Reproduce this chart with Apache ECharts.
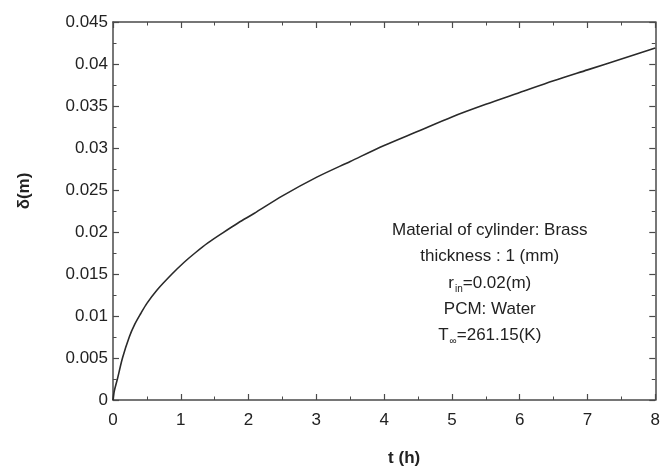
<!DOCTYPE html>
<html>
<head>
<meta charset="utf-8">
<script src="https://cdn.jsdelivr.net/npm/echarts@6/dist/echarts.min.js"></script>
<style>
  html, body { margin: 0; padding: 0; background: #fff; }
  #chart { width: 663px; height: 474px; }
</style>
</head>
<body>
<div id="chart"></div>
<script>
// time (h) and melt front thickness (m)
const tHours = [0, 0.02, 0.065, 0.14, 0.24, 0.32, 0.41, 0.5, 0.65, 0.87, 1.05, 1.21, 1.4, 1.62, 1.85, 2.08, 2.5, 3, 3.5, 4, 4.5, 5, 5.5, 6, 6.5, 7, 7.5, 8]
const delta = [0, 0.0011, 0.0025, 0.0050, 0.0075, 0.0090, 0.0103, 0.0115, 0.0131, 0.0150, 0.0164, 0.0175, 0.0187, 0.0199, 0.0211, 0.0222, 0.0243, 0.0265, 0.0284, 0.0303, 0.0320, 0.0337, 0.0352, 0.0366, 0.0380, 0.0393, 0.0406, 0.0419]

const xTicks = ['0', '1', '2', '3', '4', '5', '6', '7', '8']
const yTicks = ['0', '0.005', '0.01', '0.015', '0.02', '0.025', '0.03', '0.035', '0.04', '0.045']

const infoLines = [
  '{n|Material of cylinder: Brass}',
  '{n|thickness : 1 (mm)}',
  '{n|r}{sub|in}{n|=0.02(m)}',
  '{n|PCM: Water}',
  '{n|T}{sub|∞}{n|=261.15(K)}'
]

const font = 'Liberation Sans, Arial, sans-serif'
const axisColor = '#4a4a4a'
const textColor = '#222'

const chart = echarts.init(document.getElementById('chart'))

const baseAxis = {
  axisLine: { show: true, onZero: false, lineStyle: { color: axisColor, width: 1.5 } },
  axisTick: { show: true, inside: true, length: 6, lineStyle: { color: axisColor, width: 1.2 } },
  minorTick: { show: true, splitNumber: 2, length: 3.5, lineStyle: { color: axisColor, width: 1 } },
  splitLine: { show: false }
}

const xBase = Object.assign({}, baseAxis, { type: 'value', min: 0, max: 8, interval: 1 })
const yBase = Object.assign({}, baseAxis, { type: 'value', min: 0, max: 0.045, interval: 0.005 })

const option = {
  animation: false,
  backgroundColor: '#fff',
  grid: { left: 113, right: 5, top: 22, bottom: 74 },
  xAxis: [
    Object.assign({}, xBase, {
      position: 'bottom',
      name: 't (h)',
      nameLocation: 'middle',
      nameGap: 50,
      nameTextStyle: { fontFamily: font, fontSize: 17, fontWeight: 'bold', color: textColor, padding: [0, 0, 0, 40] },
      axisLabel: {
        fontFamily: font, fontSize: 17, color: textColor, margin: 12,
        formatter: (v) => xTicks[Math.round(v)]
      }
    }),
    Object.assign({}, xBase, { position: 'top', axisLabel: { show: false } })
  ],
  yAxis: [
    Object.assign({}, yBase, {
      position: 'left',
      name: 'δ(m)',
      nameLocation: 'middle',
      nameGap: 80,
      nameRotate: 90,
      nameTextStyle: { fontFamily: font, fontSize: 17, fontWeight: 'bold', color: textColor, padding: [0, 0, 0, 40] },
      axisLabel: {
        fontFamily: font, fontSize: 17, color: textColor, margin: 5,
        formatter: (v) => yTicks[Math.round(v / 0.005)]
      }
    }),
    Object.assign({}, yBase, { position: 'right', axisLabel: { show: false } })
  ],
  series: [{
    type: 'line',
    xAxisIndex: 0,
    yAxisIndex: 0,
    data: tHours.map((t, i) => [t, delta[i]]),
    smooth: 0.3,
    showSymbol: false,
    lineStyle: { color: '#2a2a2a', width: 1.6 }
  }],
  graphic: [{
    type: 'group',
    left: 392,
    top: 222,
    children: infoLines.map((line, i) => ({
      type: 'text',
      x: 104,
      y: i * 26.2,
      style: {
        text: line,
        align: 'center',
        rich: {
          n: { fontFamily: font, fontSize: 17, fill: textColor, lineHeight: 20 },
          sub: { fontFamily: font, fontSize: 10, fill: textColor, lineHeight: 20, padding: [12, 0, 0, 1] }
        }
      }
    }))
  }]
}

chart.setOption(option)
</script>
</body>
</html>
